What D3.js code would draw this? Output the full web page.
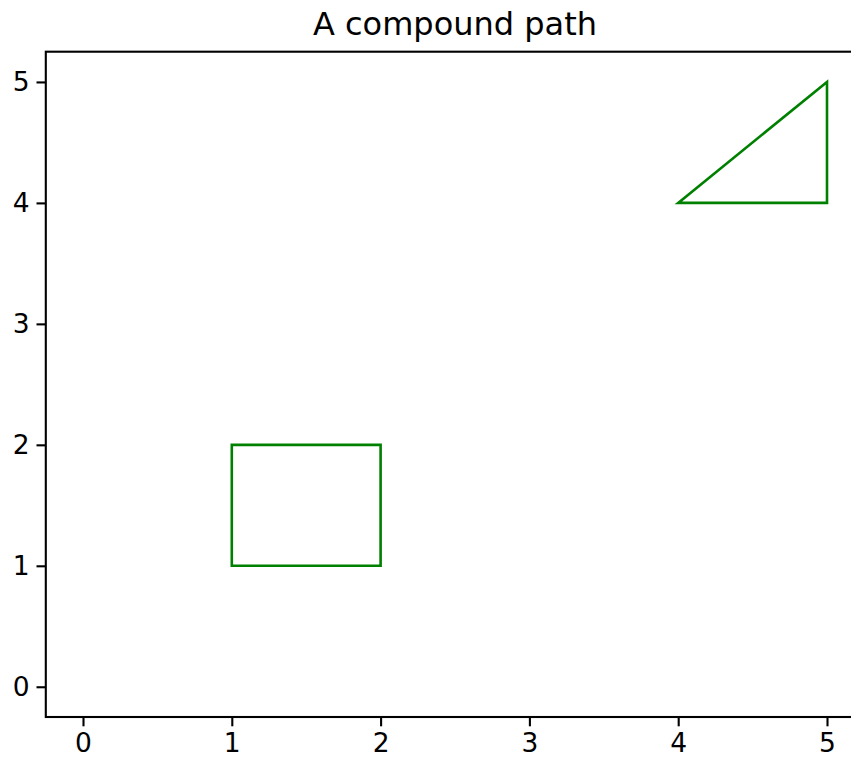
<!DOCTYPE html>
<html><head><meta charset="utf-8">
<script src="https://cdn.jsdelivr.net/npm/d3@7"></script>
<style>body{margin:0;background:#fff}svg{display:block}</style>
</head><body>
<script>
const title = "A compound path";
const xTicks = [0,1,2,3,4,5];
const yTicks = [0,1,2,3,4,5];
const rectPts = [[1,1],[2,1],[2,2],[1,2]];
const triPts = [[4,4],[5,4],[5,5]];
const xDomain = [-0.25, 5.25];
const yDomain = [-0.25, 5.25];

const W = 851, H = 759;
const m = {l:45.8, t:51.7, r:864.2, b:717};
const svg = d3.select("body").append("svg").attr("width",W).attr("height",H);
const x = d3.scaleLinear().domain(xDomain).range([m.l, m.r]);
const y = d3.scaleLinear().domain(yDomain).range([m.b, m.t]);
const font = "DejaVu Sans";

// compound path
const line = d3.line().x(d=>x(d[0])).y(d=>y(d[1]));
const dStr = line(rectPts) + "Z" + line(triPts) + "Z";
svg.append("path").attr("d", dStr).attr("fill","none").attr("stroke","#008000")
  .attr("stroke-width",2.6).attr("stroke-linejoin","miter");

// axes
const xAxis = d3.axisBottom(x).tickValues(xTicks).tickSize(9.3).tickPadding(7).tickFormat(d3.format("d"));
const yAxis = d3.axisLeft(y).tickValues(yTicks).tickSize(9.3).tickPadding(7).tickFormat(d3.format("d"));
const gx = svg.append("g").attr("transform",`translate(0,${m.b})`).call(xAxis);
const gy = svg.append("g").attr("transform",`translate(${m.l},0)`).call(yAxis);
[gx,gy].forEach(g=>{
  g.select(".domain").remove();
  g.selectAll(".tick line").attr("stroke","#000").attr("stroke-width",2.1);
  g.selectAll(".tick text").attr("fill","#000").style("font-family",font).style("font-size","26.5px");
});
// spines
svg.append("rect").attr("x",m.l).attr("y",m.t).attr("width",m.r-m.l).attr("height",m.b-m.t)
  .attr("fill","none").attr("stroke","#000").attr("stroke-width",2.1);

svg.append("text").attr("x",(m.l+m.r)/2).attr("y",35).attr("text-anchor","middle")
  .style("font-family",font).style("font-size","32px").attr("fill","#000").text(title);
</script>
</body></html>
